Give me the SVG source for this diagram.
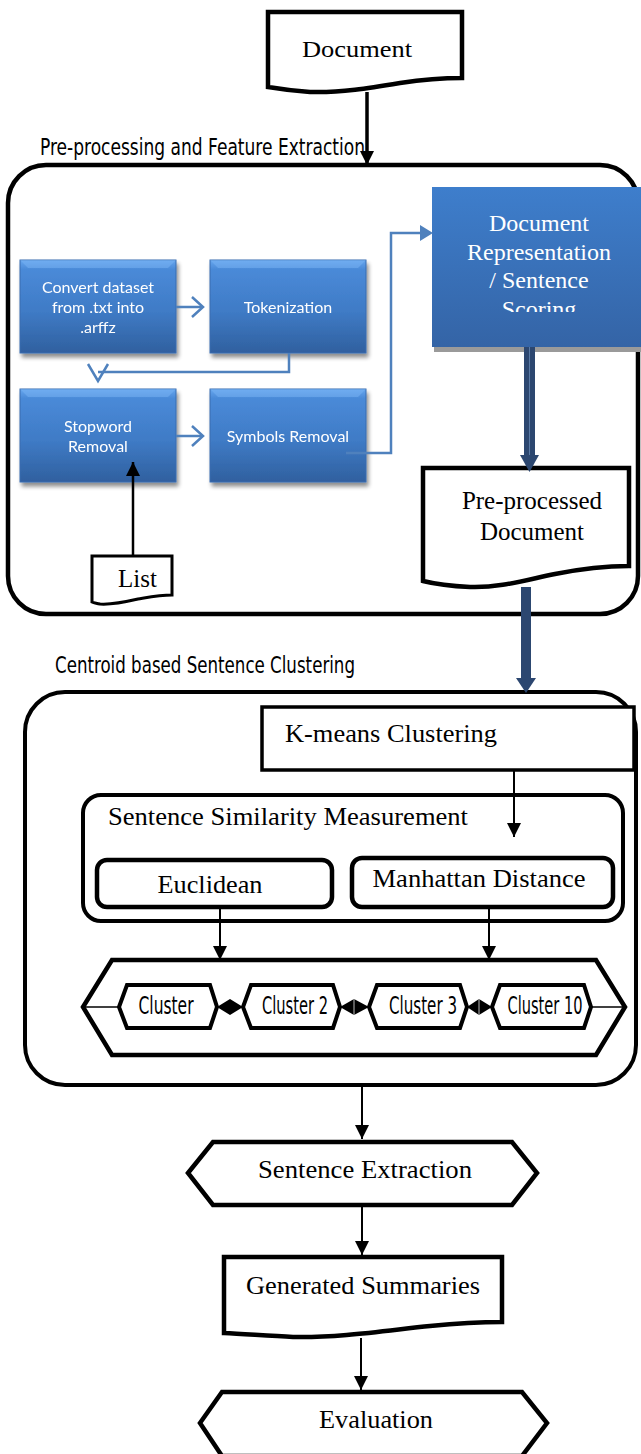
<svg xmlns="http://www.w3.org/2000/svg" width="641" height="1454" viewBox="0 0 641 1454">
<defs>
<style>
.serif{font-family:"Liberation Serif","Times New Roman",serif;fill:#000}
.cond{font-family:"DejaVu Sans Condensed","Liberation Sans",sans-serif;fill:#000}
.cal{font-family:Lato,"Open Sans",sans-serif;fill:#fff;font-size:16px}
.wt{font-family:"Liberation Serif","Times New Roman",serif;fill:#fff;font-size:24px}
.blk{fill:#fff;stroke:#000}
.bl{fill:none;stroke:#4f81bd;stroke-width:2.5}
.ln{fill:none;stroke:#000;stroke-width:2}
</style>
<linearGradient id="bg" x1="0" y1="0" x2="0" y2="1">
<stop offset="0" stop-color="#66a6ee"/>
<stop offset="0.1" stop-color="#4a8ad8"/>
<stop offset="0.55" stop-color="#3f7bc6"/>
<stop offset="1" stop-color="#30609f"/>
</linearGradient>
<linearGradient id="bg2" x1="0" y1="0" x2="0" y2="1">
<stop offset="0" stop-color="#3e7ecc"/>
<stop offset="1" stop-color="#3464a6"/>
</linearGradient>
<filter id="sh" x="-10%" y="-10%" width="130%" height="130%">
<feGaussianBlur in="SourceAlpha" stdDeviation="2"/>
<feOffset dx="2" dy="4" result="o"/>
<feComponentTransfer><feFuncA type="linear" slope="0.45"/></feComponentTransfer>
<feMerge><feMergeNode/><feMergeNode in="SourceGraphic"/></feMerge>
</filter>
<marker id="ah" markerUnits="userSpaceOnUse" markerWidth="14" markerHeight="14" refX="14" refY="7" orient="auto">
<path d="M0,0 L14,7 L0,14 Z" fill="#000"/>
</marker>
<clipPath id="dc"><rect x="432" y="187" width="215" height="125"/></clipPath>
</defs>
<rect width="641" height="1454" fill="#fff"/>

<!-- section labels -->
<text class="cond" x="40" y="155" font-size="23" textLength="325" lengthAdjust="spacingAndGlyphs">Pre-processing and Feature Extraction</text>
<text class="cond" x="55" y="673" font-size="23" textLength="300" lengthAdjust="spacingAndGlyphs">Centroid based Sentence Clustering</text>

<!-- containers -->
<g id="preprocessing-container">
<rect x="8" y="165" width="630" height="449" rx="38" fill="none" stroke="#000" stroke-width="4.5"/>
</g>
<g id="clustering-container">
<rect x="25" y="692" width="611" height="393" rx="40" fill="none" stroke="#000" stroke-width="4"/>
</g>

<g id="document">
<path class="blk" stroke-width="4.5" d="M268,12 H462 V78 C440,78 420,80 400,83 C370,88 340,93 310,92 C295,91 280,89 268,87 Z"/>
<text class="serif" x="357" y="57" font-size="24" text-anchor="middle" textLength="110" lengthAdjust="spacingAndGlyphs">Document</text>
</g>

<g id="convert" filter="url(#sh)">
<rect x="20" y="260" width="156" height="93" fill="url(#bg)" stroke="#3a6cb0" stroke-width="1"/>
<polygon points="20,260 176,260 168,268 28,268" fill="#7ab4f4" opacity="0.5"/>
<text class="cal" x="98" y="293" text-anchor="middle">Convert dataset</text>
<text class="cal" x="98" y="313" text-anchor="middle">from .txt into</text>
<text class="cal" x="98" y="333" text-anchor="middle">.arffz</text>
</g>
<g id="tokenization" filter="url(#sh)">
<rect x="210" y="260" width="156" height="93" fill="url(#bg)" stroke="#3a6cb0" stroke-width="1"/>
<polygon points="210,260 366,260 358,268 218,268" fill="#7ab4f4" opacity="0.5"/>
<text class="cal" x="288" y="313" text-anchor="middle">Tokenization</text>
</g>
<g id="stopword" filter="url(#sh)">
<rect x="20" y="389" width="156" height="93" fill="url(#bg)" stroke="#3a6cb0" stroke-width="1"/>
<polygon points="20,389 176,389 168,397 28,397" fill="#7ab4f4" opacity="0.5"/>
<text class="cal" x="98" y="432" text-anchor="middle">Stopword</text>
<text class="cal" x="98" y="452" text-anchor="middle">Removal</text>
</g>
<g id="symbols" filter="url(#sh)">
<rect x="210" y="389" width="156" height="93" fill="url(#bg)" stroke="#3a6cb0" stroke-width="1"/>
<polygon points="210,389 366,389 358,397 218,397" fill="#7ab4f4" opacity="0.5"/>
<text class="cal" x="288" y="442" text-anchor="middle">Symbols Removal</text>
</g>

<g id="doc-representation">
<rect x="434" y="190" width="215" height="162" fill="#9a9a9a"/>
<rect x="432" y="187" width="215" height="160" fill="url(#bg2)"/>
<g clip-path="url(#dc)">
<text class="wt" x="539" y="231" text-anchor="middle">Document</text>
<text class="wt" x="539" y="260" text-anchor="middle">Representation</text>
<text class="wt" x="539" y="288" text-anchor="middle">/ Sentence</text>
<text class="wt" x="539" y="317" text-anchor="middle">Scoring</text>
</g>
</g>

<g id="list">
<path class="blk" stroke-width="3" d="M92,556 H172 V595 C160,595 150,597 138,599 C125,602 112,605 100,604 C96,603 94,603 92,602 Z"/>
<text class="serif" x="118" y="587" font-size="25">List</text>
</g>

<g id="preprocessed-document">
<path class="blk" stroke-width="4.5" d="M423,468 H629 V566 C600,566 580,569 555,574 C525,580 500,588 470,587 C450,586 435,584 423,581 Z"/>
<text class="serif" x="532" y="509" font-size="25" text-anchor="middle">Pre-processed</text>
<text class="serif" x="532" y="540" font-size="25" text-anchor="middle">Document</text>
</g>

<g id="kmeans">
<rect x="262" y="707" width="372" height="63" fill="#fff" stroke="#000" stroke-width="3.5"/>
<text class="serif" x="285" y="742" font-size="25" textLength="212" lengthAdjust="spacingAndGlyphs">K-means Clustering</text>
</g>

<g id="similarity">
<rect x="83" y="795" width="540" height="126" rx="18" fill="none" stroke="#000" stroke-width="4"/>
<text class="serif" x="108" y="825" font-size="25" textLength="360" lengthAdjust="spacingAndGlyphs">Sentence Similarity Measurement</text>
</g>
<g id="euclidean">
<rect x="97" y="860" width="235" height="47" rx="10" fill="#fff" stroke="#000" stroke-width="4.5"/>
<text class="serif" x="210" y="893" font-size="25" text-anchor="middle" textLength="105" lengthAdjust="spacingAndGlyphs">Euclidean</text>
</g>
<g id="manhattan">
<rect x="352" y="858" width="261" height="49" rx="10" fill="#fff" stroke="#000" stroke-width="4.5"/>
<text class="serif" x="479" y="887" font-size="25" text-anchor="middle" textLength="213" lengthAdjust="spacingAndGlyphs">Manhattan Distance</text>
</g>

<g id="clusters">
<polygon points="83,1007 112,960 596,960 625,1007 596,1055 112,1055" fill="#fff" stroke="#000" stroke-width="4.5" stroke-linejoin="miter"/>
<line x1="83" y1="1007" x2="119" y2="1007" stroke="#000" stroke-width="1.5"/>
<line x1="591" y1="1007" x2="625" y2="1007" stroke="#000" stroke-width="1.5"/>
<g id="cluster-1">
<polygon points="119,1007 127,985 210,985 217,1007 210,1028 127,1028" fill="#fff" stroke="#000" stroke-width="4"/>
<text class="cond" x="166" y="1014" font-size="24" text-anchor="middle" textLength="55" lengthAdjust="spacingAndGlyphs">Cluster</text>
</g>
<g id="cluster-2">
<polygon points="243,1007 251,985 333,985 340,1007 333,1028 251,1028" fill="#fff" stroke="#000" stroke-width="4"/>
<text class="cond" x="295" y="1014" font-size="24" text-anchor="middle" textLength="66" lengthAdjust="spacingAndGlyphs">Cluster 2</text>
</g>
<g id="cluster-3">
<polygon points="369,1007 377,985 460,985 467,1007 460,1028 377,1028" fill="#fff" stroke="#000" stroke-width="4"/>
<text class="cond" x="423" y="1014" font-size="24" text-anchor="middle" textLength="68" lengthAdjust="spacingAndGlyphs">Cluster 3</text>
</g>
<g id="cluster-10">
<polygon points="492,1007 500,985 584,985 591,1007 584,1028 500,1028" fill="#fff" stroke="#000" stroke-width="4"/>
<text class="cond" x="545" y="1014" font-size="24" text-anchor="middle" textLength="75" lengthAdjust="spacingAndGlyphs">Cluster 10</text>
</g>
<polygon points="217,1007 230,999 243,1007 230,1015" fill="#000"/>
<polygon points="340,1007 354,999 369,1007 354,1015" fill="#000"/>
<line x1="354" y1="999" x2="354" y2="1015" stroke="#bbb" stroke-width="1"/>
<polygon points="467,1007 479,999 492,1007 479,1015" fill="#000"/>
<line x1="479" y1="999" x2="479" y2="1015" stroke="#bbb" stroke-width="1"/>
</g>

<g id="sentence-extraction">
<polygon points="188,1173 213,1142 512,1142 537,1173 512,1205 213,1205" fill="#fff" stroke="#000" stroke-width="4.5"/>
<text class="serif" x="365" y="1178" font-size="26" text-anchor="middle" textLength="214" lengthAdjust="spacingAndGlyphs">Sentence Extraction</text>
</g>
<g id="generated-summaries">
<path class="blk" stroke-width="4.5" d="M224,1257 H502 V1322 C480,1322 460,1323 430,1326 C390,1330 340,1338 293,1337 C270,1336 245,1334 224,1333 Z"/>
<text class="serif" x="363" y="1294" font-size="26" text-anchor="middle" textLength="234" lengthAdjust="spacingAndGlyphs">Generated Summaries</text>
</g>
<g id="evaluation">
<polygon points="200,1423 222,1392 522,1392 547,1423 522,1456 222,1456" fill="#fff" stroke="#000" stroke-width="4.5"/>
<text class="serif" x="376" y="1428" font-size="26" text-anchor="middle" textLength="114" lengthAdjust="spacingAndGlyphs">Evaluation</text>
</g>

<g id="connectors">
<line x1="367" y1="92" x2="367" y2="165" stroke="#000" stroke-width="3.5" marker-end="url(#ah)"/>
<line class="bl" x1="176" y1="307" x2="202" y2="307"/>
<polyline class="bl" points="192,297 203,307 192,317"/>
<polyline class="bl" points="289,353 289,372 98,372"/>
<polyline class="bl" points="88,364 98,381 108,364"/>
<line class="bl" x1="176" y1="436" x2="202" y2="436"/>
<polyline class="bl" points="192,426 203,436 192,446"/>
<polyline class="bl" points="346,453 391,453 391,233 422,233"/>
<polygon points="420,225 433,233 420,241" fill="#4f81bd"/>
<line x1="133" y1="556" x2="133" y2="462" stroke="#000" stroke-width="2.5" marker-end="url(#ah)"/>
<rect x="524" y="347" width="11" height="108" fill="#2c4770"/>
<line x1="529.5" y1="347" x2="529.5" y2="468" stroke="#5a7aa5" stroke-width="1"/>
<polygon points="520,455 539,455 529.5,472" fill="#2c4770"/>
<rect x="521" y="587" width="10" height="92" fill="#2c4770"/>
<polygon points="516,678 536,678 526,693" fill="#2c4770"/>
<line class="ln" x1="514" y1="770" x2="514" y2="837" marker-end="url(#ah)"/>
<line class="ln" x1="220" y1="907" x2="220" y2="960" marker-end="url(#ah)"/>
<line class="ln" x1="489" y1="907" x2="489" y2="960" marker-end="url(#ah)"/>
<line class="ln" x1="362" y1="1085" x2="362" y2="1139" marker-end="url(#ah)"/>
<line class="ln" x1="362" y1="1205" x2="362" y2="1255" marker-end="url(#ah)"/>
<line class="ln" x1="361" y1="1338" x2="361" y2="1390" marker-end="url(#ah)"/>
</g>
</svg>
